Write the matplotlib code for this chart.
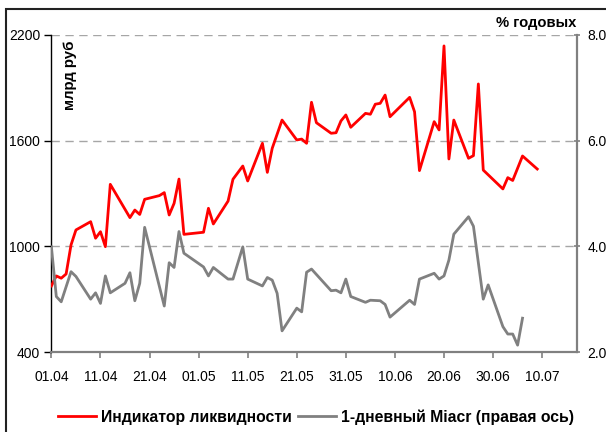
import matplotlib
matplotlib.use('Agg')
import matplotlib.pyplot as plt
import pandas as pd
from matplotlib.patches import Rectangle

plt.rcParams['font.family'] = ['Liberation Sans', 'DejaVu Sans']

# индикатор ликвидности, млрд руб (левая ось)
liq_dates = ['01.04', '02.04', '03.04', '04.04', '05.04', '06.04', '09.04', '10.04', '11.04', '12.04',
             '13.04', '17.04', '18.04', '19.04', '20.04', '23.04', '24.04', '25.04', '26.04', '27.04',
             '28.04', '02.05', '03.05', '04.05', '07.05', '08.05', '10.05', '11.05', '14.05', '15.05',
             '16.05', '18.05', '21.05', '22.05', '23.05', '24.05', '25.05', '28.05', '29.05', '30.05',
             '31.05', '01.06', '04.06', '05.06', '06.06', '07.06', '08.06', '09.06', '13.06', '14.06',
             '15.06', '18.06', '19.06', '20.06', '21.06', '22.06', '25.06', '26.06', '27.06', '28.06',
             '02.07', '03.07', '04.07', '06.07', '09.07']
liq_vals = [775, 832, 819, 843, 1008, 1093, 1140, 1046, 1083, 998,
            1352, 1163, 1206, 1181, 1267, 1288, 1305, 1178, 1244, 1382,
            1068, 1080, 1216, 1127, 1257, 1381, 1456, 1371, 1585, 1420,
            1557, 1717, 1604, 1609, 1585, 1818, 1702, 1642, 1645, 1712,
            1746, 1676, 1755, 1750, 1807, 1812, 1859, 1736, 1846, 1764,
            1430, 1708, 1661, 2138, 1496, 1717, 1500, 1515, 1922, 1433,
            1326, 1390, 1374, 1513, 1439]

# 1-дневный Miacr, % годовых (правая ось)
miacr_dates = ['01.04', '02.04', '03.04', '05.04', '06.04', '09.04', '10.04', '11.04', '12.04', '13.04',
               '16.04', '17.04', '18.04', '19.04', '20.04', '24.04', '25.04', '26.04', '27.04', '28.04',
               '02.05', '03.05', '04.05', '07.05', '08.05', '10.05', '11.05', '14.05', '15.05', '16.05',
               '17.05', '18.05', '21.05', '22.05', '23.05', '24.05', '28.05', '29.05', '30.05', '31.05',
               '01.06', '04.06', '05.06', '07.06', '08.06', '09.06', '13.06', '14.06', '15.06', '18.06',
               '19.06', '20.06', '21.06', '22.06', '25.06', '26.06', '28.06', '29.06', '02.07', '03.07',
               '04.07', '05.07', '06.07']
miacr_vals = [3.99, 3.05, 2.95, 3.52, 3.43, 3.00, 3.12, 2.92, 3.44, 3.12,
              3.30, 3.50, 2.97, 3.30, 4.36, 2.87, 3.69, 3.60, 4.28, 3.87,
              3.61, 3.44, 3.60, 3.38, 3.38, 3.99, 3.38, 3.25, 3.41, 3.36,
              3.11, 2.40, 2.83, 2.76, 3.51, 3.57, 3.16, 3.17, 3.12, 3.38,
              3.05, 2.94, 2.98, 2.97, 2.90, 2.66, 2.98, 2.90, 3.38, 3.49,
              3.38, 3.44, 3.74, 4.23, 4.56, 4.38, 3.00, 3.27, 2.48, 2.34,
              2.34, 2.13, 2.64]

xtick_labels = ['01.04', '11.04', '21.04', '01.05', '11.05', '21.05', '31.05', '10.06', '20.06', '30.06', '10.07']


def to_dt(lst):
    return pd.to_datetime([s + '.2007' for s in lst], format='%d.%m.%Y')


fig = plt.figure(figsize=(6.06, 4.32), dpi=100)
ax = fig.add_axes([51.4 / 606, 1 - 352 / 432, (576.5 - 51.4) / 606, (352 - 35) / 432])
ax2 = ax.twinx()

ax.plot(to_dt(liq_dates), liq_vals, color='#ff0000', lw=2.0, zorder=3)
ax2.plot(to_dt(miacr_dates), miacr_vals, color='#808080', lw=2.0, zorder=2)

start = pd.Timestamp('2007-04-01')
ax.set_xlim(start, start + pd.Timedelta(days=107))
ax.set_xticks(to_dt(xtick_labels))
ax.set_xticklabels(xtick_labels)

ax.set_ylim(400, 2200)
ax.set_yticks([400, 1000, 1600, 2200])
ax2.set_ylim(2, 8)
ax2.set_yticks([2, 4, 6, 8])
ax2.set_yticklabels(['2.0', '4.0', '6.0', '8.0'])

for y in [1000, 1600, 2200]:
    ax.axhline(y, color='#a6a6a6', lw=1.0, ls=(0, (6, 4)), zorder=1)

for s in ['top', 'right']:
    ax.spines[s].set_visible(False)
for s in ['top', 'left', 'bottom']:
    ax2.spines[s].set_visible(False)
ax.spines['left'].set_color('black')
ax.spines['left'].set_linewidth(1.0)
ax.spines['bottom'].set_color('#808080')
ax.spines['bottom'].set_linewidth(1.6)
ax2.spines['right'].set_color('#808080')
ax2.spines['right'].set_linewidth(1.6)

ax.tick_params(axis='y', length=5, width=1, color='black', labelsize=10, pad=3)
ax.tick_params(axis='x', length=4, width=1.2, color='#808080', labelsize=10, pad=9)
ax2.tick_params(axis='y', length=4, width=1.2, color='#808080', labelsize=10, pad=6, direction='inout')

fig.text(70 / 606, 1 - 40 / 432, 'млрд руб', rotation=90, ha='center', va='top',
         fontsize=10.8, fontweight='bold')
fig.text(576 / 606, 1 - 23 / 432, '% годовых', ha='right', va='center',
         fontsize=10.6, fontweight='bold')

h1, = ax.plot([], [], color='#ff0000', lw=2.0)
h2, = ax.plot([], [], color='#808080', lw=2.0)
fig.legend([h1, h2], ['Индикатор ликвидности', '1-дневный Miacr (правая ось)'],
           loc='center', bbox_to_anchor=(316 / 606, 1 - 417 / 432), ncol=2, frameon=False,
           prop={'size': 11.3, 'weight': 'bold'}, handlelength=2.4, handletextpad=0.32,
           columnspacing=0.45)

fig.patches.append(Rectangle((6 / 606, -0.1), 1.0, 1.1 - 9 / 432, transform=fig.transFigure,
                             fill=False, edgecolor='#222222', lw=1.5))

fig.savefig('out.png', dpi=100)
